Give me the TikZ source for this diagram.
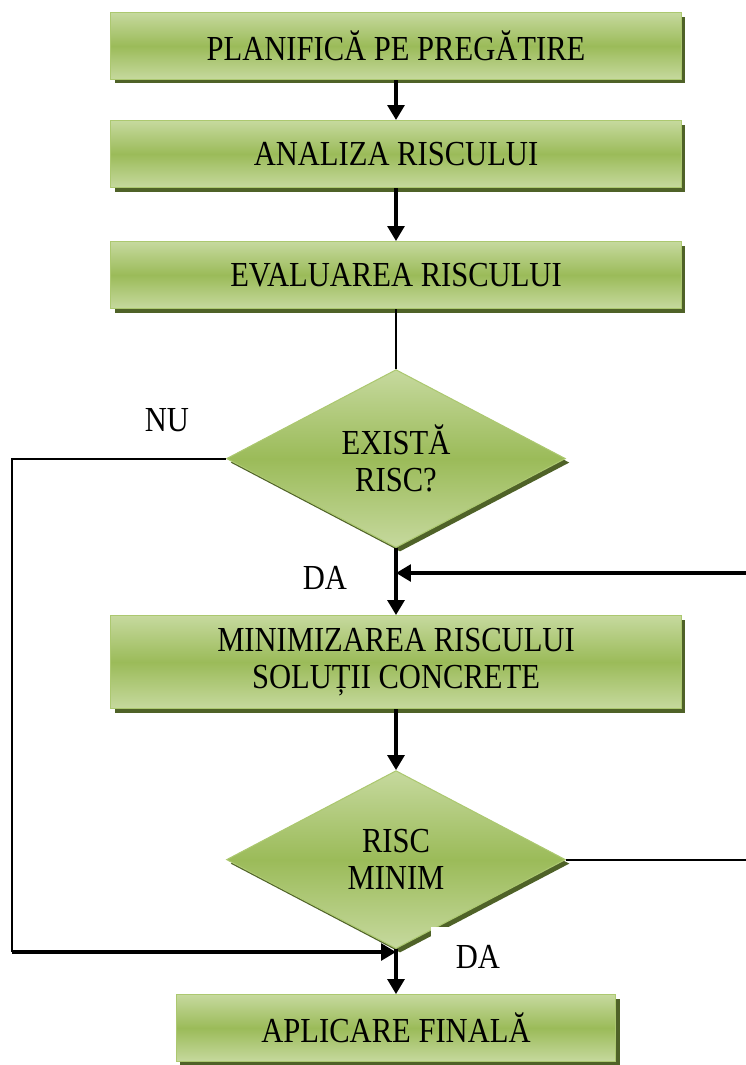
\documentclass[tikz,border=0pt]{standalone}
\definecolor{riscLight}{RGB}{198,217,158}
\definecolor{riscGreen}{RGB}{155,187,89}
\definecolor{riscDark}{RGB}{79,98,40}
\definecolor{riscEdge}{RGB}{172,200,112}
\usepackage{fontspec}
\setmainfont{Liberation Serif}[FakeStretch=0.87]
\usetikzlibrary{arrows.meta,positioning,shapes.geometric,shadows}

\begin{document}
\begin{tikzpicture}[
  x=0.02cm, y=-0.02cm,
  font=\fontsize{20}{21}\selectfont,
  box/.style={draw=riscEdge, line width=0.6pt, top color=riscLight,
              bottom color=riscLight, middle color=riscGreen,
              drop shadow={shadow xshift=0.08cm, shadow yshift=-0.08cm,
                           fill=riscDark, opacity=1},
              minimum width=11.42cm, minimum height=1.34cm,
              inner sep=0pt, align=center},
  decision/.style={box, diamond, aspect=1.9,
                   minimum width=6.78cm, minimum height=3.56cm},
  flow/.style={-{Triangle[length=8.5pt,width=9.5pt]}, line width=2pt},
  link/.style={line width=1.1pt}
]
  \useasboundingbox (0,0) rectangle (745,1065);

  \node[box] (plan) at (396,46)      {PLANIFICĂ PE PREGĂTIRE};
  \node[box, below=0.8cm of plan]  (anal) {ANALIZA RISCULUI};
  \node[box, below=1.06cm of anal] (eval) {EVALUAREA RISCULUI};
  \node[decision, below=1.2cm of eval] (exist) {EXISTĂ\\RISC?};
  \node[box, minimum height=1.86cm, below=1.34cm of exist] (mini)
       {MINIMIZAREA RISCULUI\\SOLUȚII CONCRETE};
  \node[decision, below=1.22cm of mini] (minim) {RISC\\MINIM};
  \node[box, minimum width=8.8cm, below=0.9cm of minim] (final) {APLICARE FINALĂ};

  \node (nu)  at (167,420) {NU};
  \node (da)  at (325,578) {DA};
  \node[fill=white, minimum width=1.88cm, minimum height=1.2cm] (da2) at (478,957) {DA};

  \coordinate (back)   at (747,573);
  \coordinate (nuturn) at (12,952);

  \draw[flow] (plan) -- (anal);
  \draw[flow] (anal) -- (eval);
  \draw[link] (eval) -- (exist);
  \draw[flow] (exist) -- (mini);
  \draw[flow] (mini) -- (minim);
  \draw[flow] (minim) -- (final);

  % back loop and NU branch
  \draw[link] (minim.east) -| (back);
  \draw[flow] (back) -- (back -| exist.south);
  \draw[link] (exist.west) -| (nuturn);
  \draw[flow] (nuturn) -- (nuturn -| minim.south);
\end{tikzpicture}
\end{document}
